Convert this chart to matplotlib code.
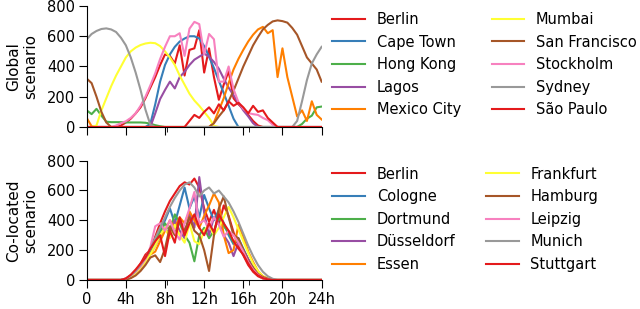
import numpy as np
import matplotlib
matplotlib.use('Agg')
import matplotlib.pyplot as plt

# half-hour grid, 0h .. 24h (49 points)
hours = np.arange(0, 24.5, 0.5)

# ---- Global scenario ----
global_names = ['Berlin', 'Cape Town', 'Hong Kong', 'Lagos', 'Mexico City',
                'Mumbai', 'San Francisco', 'Stockholm', 'Sydney', 'São Paulo']

berlin_g = [0, 0, 0, 0, 0, 0, 0, 10, 30, 55, 90, 130, 190, 260, 330, 410, 480, 470,
            420, 540, 340, 510, 520, 640, 360, 520, 330, 180, 280, 370, 190, 150,
            120, 80, 40, 10, 0, 0, 0, 0, 0, 0, 0, 0, 0, 0, 0, 0, 0]
cape_town_g = [0, 0, 0, 0, 0, 0, 0, 0, 0, 0, 0, 0, 0, 20, 150, 300, 410, 480,
               530, 565, 585, 600, 600, 585, 535, 465, 390, 305, 225, 140, 55, 0,
               0, 0, 0, 0, 0, 0, 0, 0, 0, 0, 0, 0, 0, 0, 0, 0, 0]
hong_kong_g = [110, 85, 120, 75, 35, 32, 32, 32, 30, 30, 30, 30, 28, 22, 12, 5, 0, 0,
               0, 0, 0, 0, 0, 0, 0, 0, 0, 0, 0, 0, 0, 0, 0, 0, 0, 0, 0, 0, 0, 0,
               0, 0, 0, 0, 20, 55, 75, 130, 135]
lagos_g = [0, 0, 0, 0, 0, 0, 0, 0, 0, 0, 0, 0, 0, 0, 90, 185, 245, 300, 255, 330,
           365, 410, 445, 465, 485, 465, 430, 385, 320, 260, 210, 160, 110, 70, 25,
           0, 0, 0, 0, 0, 0, 0, 0, 0, 0, 0, 0, 0, 0]
mexico_city_g = [60, 5, 0, 0, 0, 0, 0, 0, 0, 0, 0, 0, 0, 0, 0, 0, 0, 0, 0, 0, 0, 0,
                 0, 0, 0, 0, 30, 110, 190, 290, 380, 450, 510, 565, 610, 645, 662,
                 620, 640, 330, 520, 330, 200, 70, 110, 40, 170, 80, 50]
mumbai_g = [0, 0, 10, 110, 190, 270, 340, 400, 460, 500, 525, 542, 552, 557, 554,
            535, 500, 460, 410, 340, 280, 220, 175, 140, 100, 60, 8, 0, 0, 0, 0, 0,
            0, 0, 0, 0, 0, 0, 0, 0, 0, 0, 0, 0, 0, 0, 0, 0, 0]
san_francisco_g = [320, 290, 200, 100, 30, 0, 0, 0, 0, 0, 0, 0, 0, 0, 0, 0, 0, 0,
                   0, 0, 0, 0, 0, 0, 0, 0, 25, 70, 110, 170, 240, 320, 400, 470, 540,
                   595, 645, 675, 698, 705, 700, 690, 655, 610, 535, 460, 420, 380, 300]
stockholm_g = [0, 0, 0, 0, 0, 0, 10, 25, 38, 60, 90, 140, 200, 275, 355, 450, 530,
               600, 600, 620, 470, 650, 695, 680, 480, 615, 580, 300, 300, 400, 250,
               165, 120, 92, 85, 80, 60, 45, 15, 0, 0, 0, 0, 0, 0, 0, 0, 0, 0]
sydney_g = [580, 615, 635, 648, 652, 645, 628, 590, 540, 460, 360, 245, 115, 15, 0,
            0, 0, 0, 0, 0, 0, 0, 0, 0, 0, 0, 0, 0, 0, 0, 0, 0, 0, 0, 0, 0, 0, 0, 0,
            0, 0, 0, 0, 40, 170, 310, 420, 480, 530]
sao_paulo_g = [0, 0, 0, 0, 0, 0, 0, 0, 0, 0, 0, 0, 0, 0, 0, 0, 0, 0, 0, 0, 0, 40,
               80, 60, 100, 130, 90, 150, 110, 170, 140, 160, 130, 90, 140, 100, 110,
               60, 30, 0, 0, 0, 0, 0, 0, 0, 0, 0, 0]

global_series = [berlin_g, cape_town_g, hong_kong_g, lagos_g, mexico_city_g,
                 mumbai_g, san_francisco_g, stockholm_g, sydney_g, sao_paulo_g]

# ---- Co-located scenario ----
local_names = ['Berlin', 'Cologne', 'Dortmund', 'Düsseldorf', 'Essen',
               'Frankfurt', 'Hamburg', 'Leipzig', 'Munich', 'Stuttgart']

pre = [0, 0, 0, 0, 0, 0, 0]   # 0h .. 3h
post = [0, 0, 0, 0, 0, 0, 0, 0, 0, 0]   # 19.5h .. 24h

berlin_c = pre + [0, 8, 30, 60, 110, 170, 200, 290, 380, 460, 530, 580, 630, 655,
                  640, 680, 620, 480, 390, 470, 370, 500, 430, 320, 230, 165, 100,
                  55, 25, 10, 3, 0] + post
cologne_c = pre + [0, 5, 20, 50, 90, 140, 200, 260, 330, 400, 480, 380, 500, 620,
                   480, 560, 420, 570, 480, 400, 470, 380, 300, 240, 280, 210, 140,
                   85, 40, 15, 5, 0] + post
dortmund_c = pre + [0, 4, 15, 40, 80, 130, 200, 260, 320, 380, 330, 440, 380, 300,
                    250, 125, 300, 350, 280, 330, 420, 360, 320, 250, 270, 200, 130,
                    80, 40, 15, 5, 0] + post
duesseldorf_c = pre + [0, 5, 20, 45, 80, 120, 170, 230, 290, 350, 300, 400, 330,
                       280, 450, 350, 690, 450, 300, 420, 380, 300, 250, 160, 250,
                       200, 140, 80, 40, 15, 5, 0] + post
essen_c = pre + [0, 5, 20, 40, 80, 130, 170, 190, 260, 330, 400, 350, 420, 380, 460,
                 400, 350, 430, 500, 580, 520, 300, 180, 200, 370, 290, 190, 120, 60,
                 25, 10, 0] + post
frankfurt_c = pre + [0, 3, 15, 40, 80, 120, 170, 230, 300, 350, 280, 370, 300, 250,
                     380, 260, 240, 330, 370, 300, 350, 420, 490, 420, 340, 260, 180,
                     110, 60, 25, 8, 0] + post
hamburg_c = pre + [0, 3, 12, 30, 60, 100, 150, 165, 120, 210, 360, 300, 410, 330,
                   420, 330, 300, 200, 60, 300, 480, 560, 420, 300, 280, 200, 130,
                   80, 40, 20, 8, 0] + post
leipzig_c = pre + [0, 10, 30, 55, 90, 140, 220, 360, 380, 330, 400, 320, 270, 380,
                   480, 590, 380, 400, 350, 420, 370, 290, 330, 300, 250, 190, 120,
                   70, 35, 12, 4, 0] + post
munich_c = pre + [0, 10, 30, 60, 100, 150, 210, 280, 350, 420, 490, 550, 600, 640,
                  655, 620, 560, 600, 620, 580, 600, 560, 520, 460, 390, 310, 230,
                  160, 100, 55, 25, 8] + post
stuttgart_c = pre + [0, 10, 35, 70, 110, 150, 210, 260, 300, 160, 330, 250, 420, 300,
                     380, 440, 350, 300, 380, 320, 440, 380, 330, 260, 210, 170, 110,
                     60, 30, 12, 4, 0] + post

local_series = [berlin_c, cologne_c, dortmund_c, duesseldorf_c, essen_c,
                frankfurt_c, hamburg_c, leipzig_c, munich_c, stuttgart_c]

tick_hours = [0, 4, 8, 12, 16, 20, 24]
tick_labels = ['0', '4h', '8h', '12h', '16h', '20h', '24h']
minor_hours = [8.25, 16.6]

colors = plt.cm.Set1.colors

fig = plt.figure(figsize=(6.4, 3.09), dpi=100)
ax_top = fig.add_axes([0.1355, 0.589, 0.367, 0.3916])
ax_bot = fig.add_axes([0.1355, 0.094, 0.367, 0.386])

panels = [(ax_top, global_names, global_series, 'Global\nscenario', 0.98),
          (ax_bot, local_names, local_series, 'Co-located\nscenario', 0.48)]

for ax, names, series, ylabel, leg_y in panels:
    for i, (name, vals) in enumerate(zip(names, series)):
        ax.plot(hours, vals, color=colors[i % 9], lw=1.5, label=name)
    ax.set_xlim(0, 24)
    ax.set_ylim(0, 800)
    ax.set_yticks([0, 200, 400, 600, 800])
    ax.set_xticks(tick_hours)
    ax.set_xticks(minor_hours, minor=True)
    ax.tick_params(labelsize=10.5, length=6, pad=2.5)
    ax.tick_params(which='minor', length=3.5)
    ax.spines['top'].set_visible(False)
    ax.spines['right'].set_visible(False)
    ax.set_ylabel(ylabel, fontsize=11, labelpad=6)
    ax.legend(loc='upper left', bbox_to_anchor=(0.51, leg_y),
              bbox_transform=fig.transFigure, ncol=2, frameon=False,
              fontsize=10.5, borderaxespad=0, handlelength=2.25,
              labelspacing=0.52, columnspacing=2.1)

ax_top.set_xticklabels([])
ax_bot.set_xticklabels(tick_labels)

plt.savefig('out.png', dpi=100)
plt.close(fig)
